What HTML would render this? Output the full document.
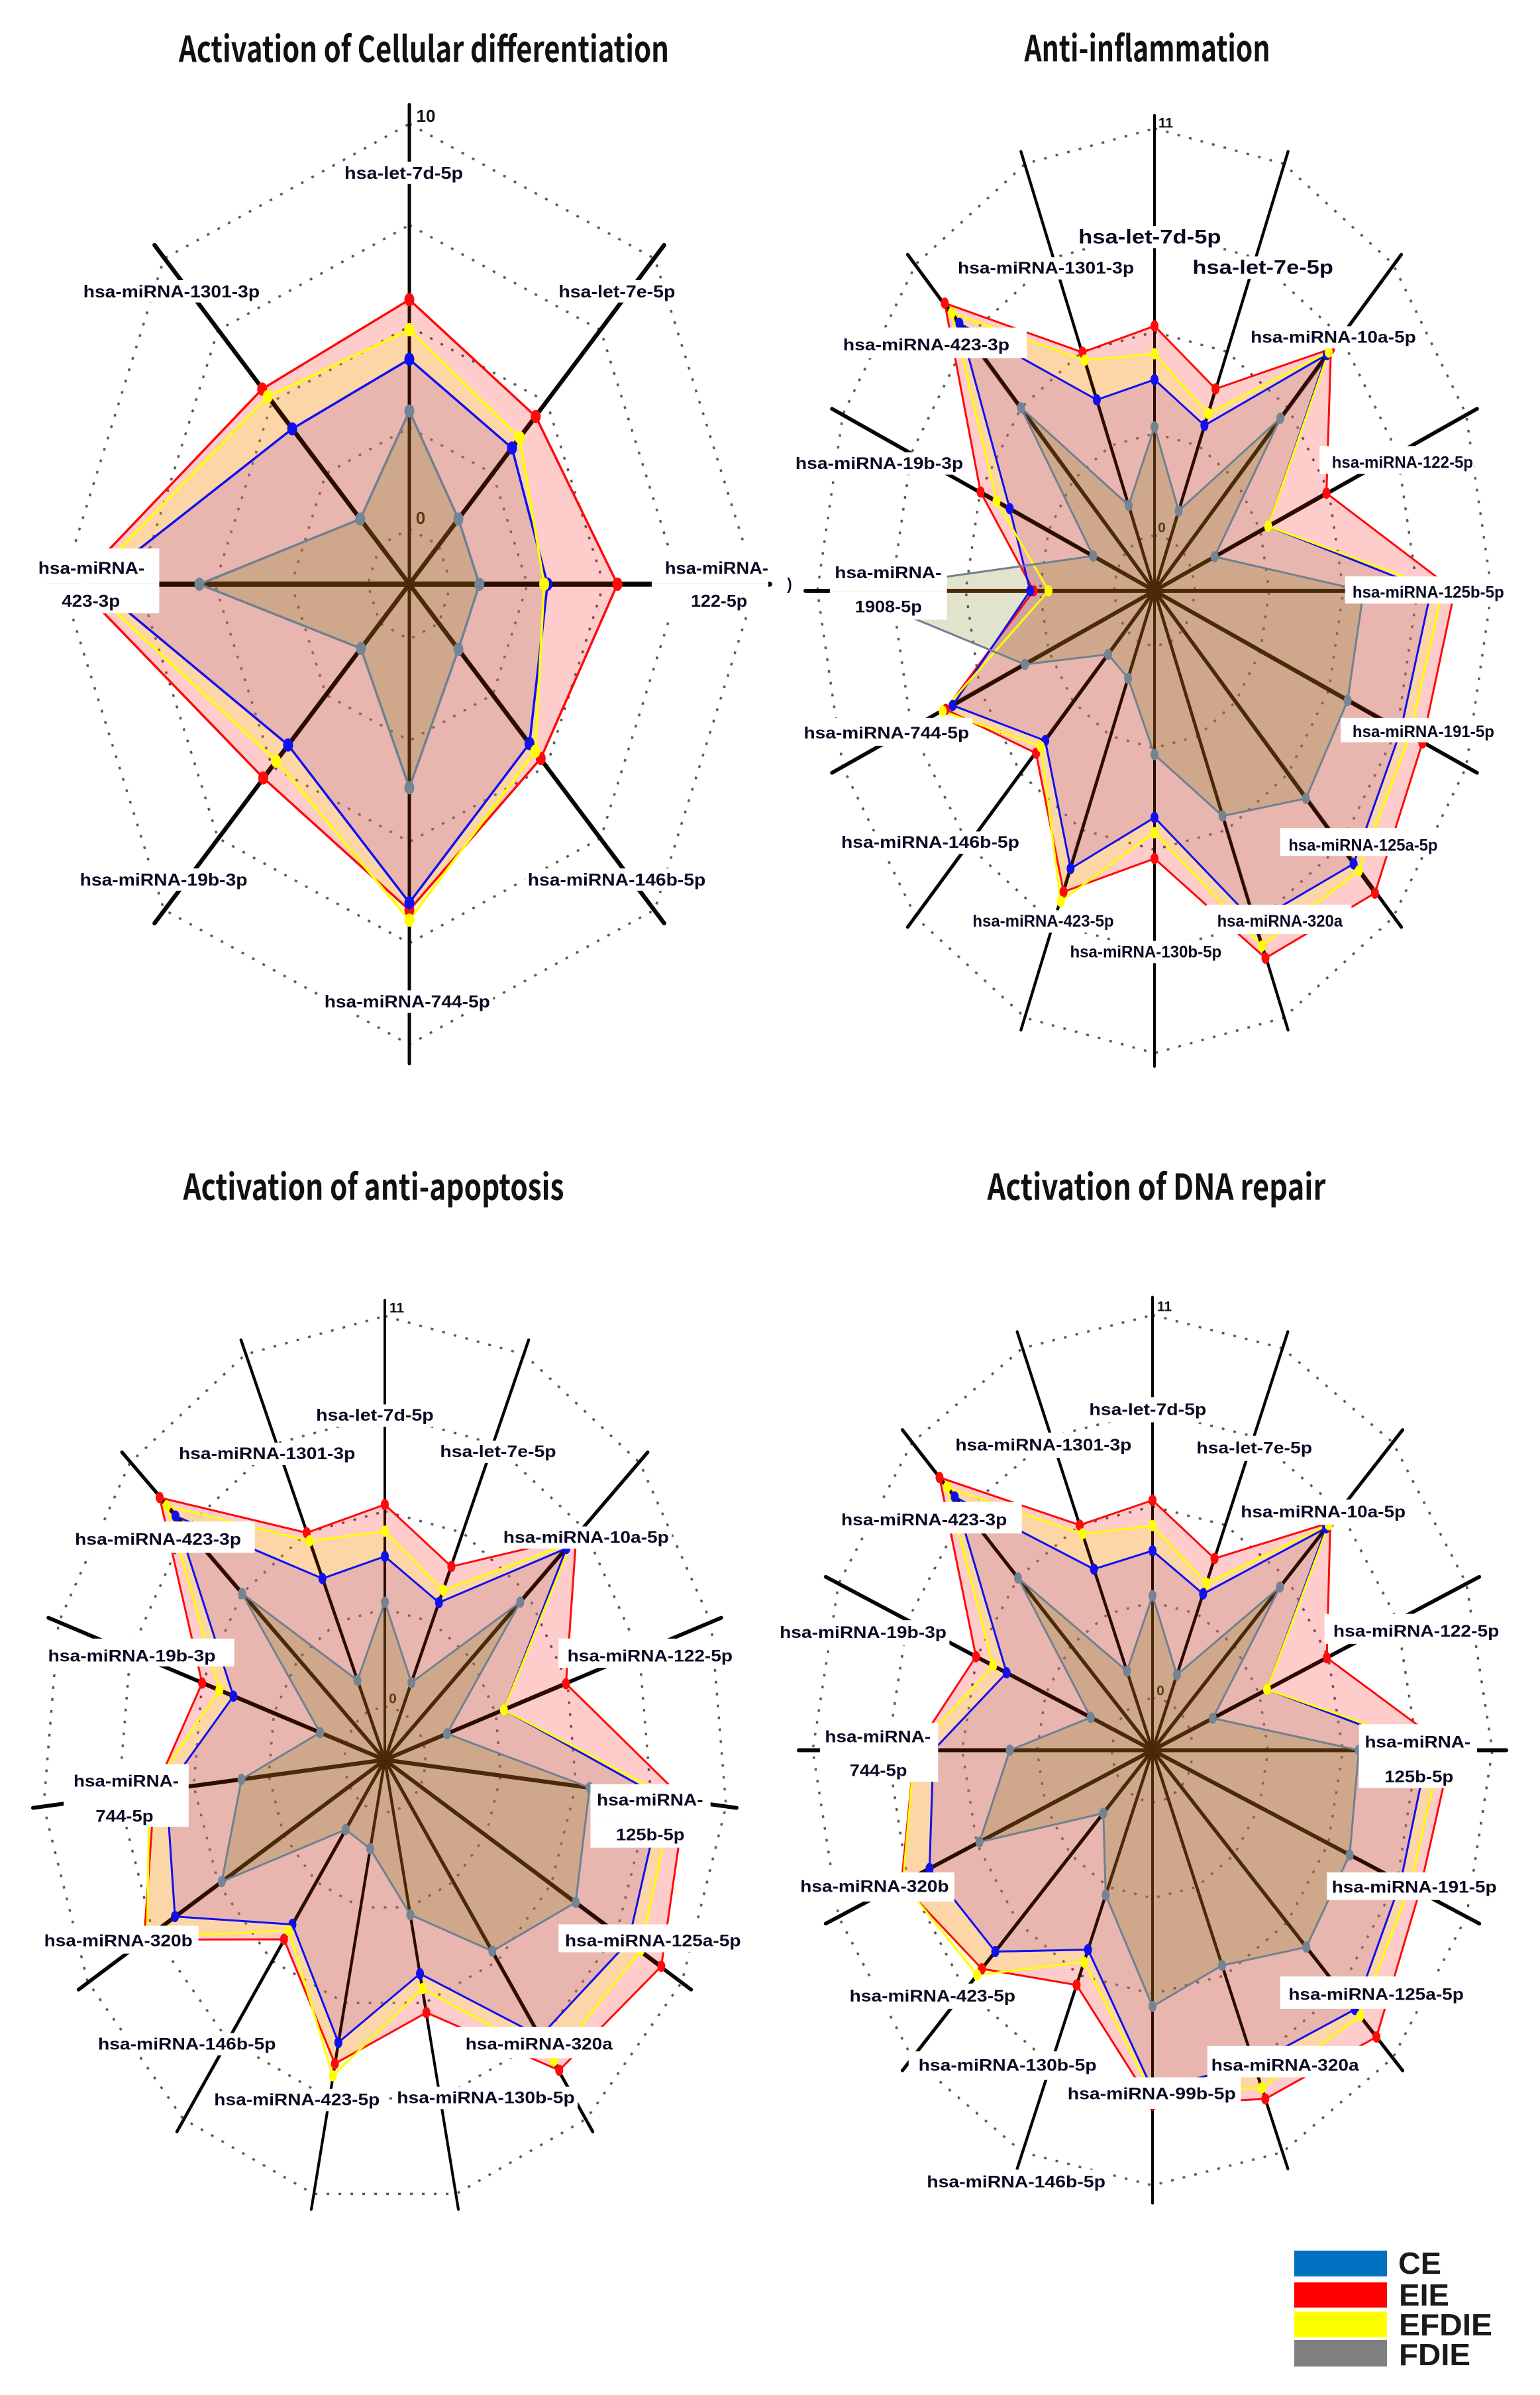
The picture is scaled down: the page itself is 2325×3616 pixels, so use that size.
<!DOCTYPE html>
<html lang="en">
<head>
<meta charset="utf-8">
<title>Radar charts of miRNA activation</title>
<style>
html,body{margin:0;padding:0;background:#fff;}
svg{display:block;}
text{font-family:"Liberation Sans","Noto Sans CJK KR",sans-serif;}
.title{font-family:"Noto Sans CJK KR","Liberation Sans",sans-serif;font-weight:700;font-size:54px;fill:#111;}
.lab{font-weight:700;fill:#0a0a22;}
.leg{font-weight:700;font-size:46px;fill:#1a1a1a;}
</style>
</head>
<body>
<svg id="root" xmlns="http://www.w3.org/2000/svg" width="2325" height="3616" viewBox="0 0 2325 3616">
<rect x="0" y="0" width="2325" height="3616" fill="#fff"/>
<text class="title" x="640" y="70" text-anchor="middle" dominant-baseline="central" textLength="740" lengthAdjust="spacingAndGlyphs">Activation of Cellular differentiation</text>
<text class="title" x="1732" y="69" text-anchor="middle" dominant-baseline="central" textLength="371" lengthAdjust="spacingAndGlyphs">Anti-inflammation</text>
<text class="title" x="564" y="1788" text-anchor="middle" dominant-baseline="central" textLength="575" lengthAdjust="spacingAndGlyphs">Activation of anti-apoptosis</text>
<text class="title" x="1746" y="1788" text-anchor="middle" dominant-baseline="central" textLength="511" lengthAdjust="spacingAndGlyphs">Activation of DNA repair</text>
<g id="charts"></g>
<g>
<rect x="1954" y="3398" width="140" height="39" fill="#0070c0"/>
<rect x="1954" y="3446" width="140" height="38" fill="#ff0000"/>
<rect x="1954" y="3490" width="140" height="39" fill="#ffff00"/>
<rect x="1954" y="3533" width="140" height="40" fill="#808080"/>
<text class="leg" x="2111" y="3417" dominant-baseline="central" textLength="65" lengthAdjust="spacingAndGlyphs">CE</text>
<text class="leg" x="2112" y="3465" dominant-baseline="central" textLength="76" lengthAdjust="spacingAndGlyphs">EIE</text>
<text class="leg" x="2112" y="3510" dominant-baseline="central" textLength="141" lengthAdjust="spacingAndGlyphs">EFDIE</text>
<text class="leg" x="2112" y="3555" dominant-baseline="central" textLength="108" lengthAdjust="spacingAndGlyphs">FDIE</text>
</g>
</svg>
<script>
// ---------- Activation of Cellular differentiation ----------
const cellCategories = ["hsa-let-7d-5p","hsa-let-7e-5p","hsa-miRNA-122-5p","hsa-miRNA-146b-5p","hsa-miRNA-744-5p","hsa-miRNA-19b-3p","hsa-miRNA-423-3p","hsa-miRNA-1301-3p"];
const cellEIE   = [5.66,4.49,5.45,4.72,6.68,5.40,9.55,5.45];
const cellEFDIE = [4.92,3.75,3.05,4.47,6.93,4.81,9.25,5.19];
const cellCE    = [4.19,3.39,3.16,4.20,6.50,4.25,8.94,4.06];
const cellFDIE  = [2.91,0.91,0.93,0.91,3.66,0.88,5.51,0.91];
const cellTicks = ["0","10"];

// ---------- Anti-inflammation ----------
const inflCategories = ["hsa-let-7d-5p","hsa-let-7e-5p","hsa-miRNA-10a-5p","hsa-miRNA-122-5p","hsa-miRNA-125b-5p","hsa-miRNA-191-5p","hsa-miRNA-125a-5p","hsa-miRNA-320a","hsa-miRNA-130b-5p","hsa-miRNA-423-5p","hsa-miRNA-146b-5p","hsa-miRNA-744-5p","hsa-miRNA-1908-5p","hsa-miRNA-19b-3p","hsa-miRNA-423-3p","hsa-miRNA-1301-3p"];
const inflEIE   = [5.66,4.41,7.75,5.40,9.63,9.25,10.06,9.25,5.74,7.31,4.71,6.88,2.98,5.48,9.50,5.48];
const inflEFDIE = [4.91,3.69,7.63,3.06,9.18,8.75,9.21,8.90,5.04,7.59,4.46,7.00,2.43,4.84,9.13,5.25];
const inflCE    = [4.21,3.34,7.53,3.06,8.75,8.38,8.94,8.19,4.63,6.63,4.23,6.60,3.11,4.31,8.73,4.09];
const inflFDIE  = [2.93,0.84,5.10,0.91,6.25,6.25,6.44,5.09,2.93,1.06,0.93,3.70,9.90,0.96,5.50,1.00];
const inflTicks = ["0","11"];

// ---------- Activation of anti-apoptosis ----------
const apopCategories = ["hsa-let-7d-5p","hsa-let-7e-5p","hsa-miRNA-10a-5p","hsa-miRNA-122-5p","hsa-miRNA-125b-5p","hsa-miRNA-125a-5p","hsa-miRNA-320a","hsa-miRNA-130b-5p","hsa-miRNA-423-5p","hsa-miRNA-146b-5p","hsa-miRNA-320b","hsa-miRNA-744-5p","hsa-miRNA-19b-3p","hsa-miRNA-423-3p","hsa-miRNA-1301-3p"];
const apopEIE   = [5.69,4.46,7.88,5.44,9.50,10.13,9.31,5.78,7.25,4.75,8.63,6.94,5.50,9.54,5.50];
const apopEFDIE = [4.94,3.73,7.63,3.06,9.06,9.25,8.98,5.09,7.60,4.45,8.50,7.13,4.84,9.19,5.25];
const apopCE    = [4.23,3.35,7.40,3.06,8.63,8.75,8.13,4.66,6.64,4.23,7.33,6.50,4.30,8.76,4.09];
const apopFDIE  = [2.94,0.88,5.14,0.88,6.00,6.53,5.16,2.96,1.06,0.93,5.36,3.75,0.98,5.50,0.95];
const apopTicks = ["0","11"];

// ---------- Activation of DNA repair ----------
const dnaCategories = ["hsa-let-7d-5p","hsa-let-7e-5p","hsa-miRNA-10a-5p","hsa-miRNA-122-5p","hsa-miRNA-125b-5p","hsa-miRNA-191-5p","hsa-miRNA-125a-5p","hsa-miRNA-320a","hsa-miRNA-99b-5p","hsa-miRNA-130b-5p","hsa-miRNA-423-5p","hsa-miRNA-320b","hsa-miRNA-744-5p","hsa-miRNA-19b-3p","hsa-miRNA-423-3p","hsa-miRNA-1301-3p"];
const dnaEIE   = [5.68,4.46,7.75,5.44,9.50,9.13,10.15,9.34,8.69,5.80,7.38,8.50,7.25,5.53,9.58,5.50];
const dnaEFDIE = [4.95,3.69,7.66,3.06,9.13,8.75,9.30,9.00,8.38,5.09,7.63,8.44,7.25,4.85,9.19,5.23];
const dnaCE    = [4.23,3.36,7.53,3.06,8.63,8.38,9.03,8.25,8.25,4.70,6.68,7.38,6.56,4.31,8.79,4.13];
const dnaFDIE  = [2.94,0.84,5.13,0.90,6.09,6.35,6.50,5.19,5.86,3.00,1.06,5.39,3.75,0.96,5.50,0.96];
const dnaTicks = ["0","11"];

// ---------- Label layout (text, x0, x1, y-centre in reference crop units, optional box x0,x1,y0,y1, font px) ----------
const cellLabelLayout = [
 ["hsa-let-7d-5p",703,945,248],["hsa-miRNA-1301-3p",170,530,418],["hsa-let-7e-5p",1140,1378,418],
 ["hsa-miRNA-",78,295,815,[70,325,787,838]],["423-3p",126,245,862,[70,325,838,880]],
 ["hsa-miRNA-",1357,1568,815,[1330,1568,787,838]],["122-5p",1410,1525,862,[1330,1568,838,885]],
 ["hsa-miRNA-19b-3p",163,505,1262],["hsa-miRNA-146b-5p",1077,1440,1262],["hsa-miRNA-744-5p",662,1000,1437]
];
const inflLabelLayout = [
 ["hsa-let-7d-5p",630,920,340,null,30],["hsa-let-7e-5p",862,1148,384,null,30],["hsa-miRNA-1301-3p",385,743,385],
 ["hsa-miRNA-10a-5p",980,1316,484],["hsa-miRNA-423-3p",152,490,495,[145,525,470,514]],
 ["hsa-miRNA-122-5p",1145,1432,664,[1120,1435,640,680]],["hsa-miRNA-19b-3p",55,396,665],
 ["hsa-miRNA-",135,352,822,[125,363,800,848]],["1908-5p",176,312,871,[125,363,848,889]],
 [")",38,48,838],
 ["hsa-miRNA-125b-5p",1187,1495,850,[1172,1500,827,866]],["hsa-miRNA-744-5p",72,408,1052,[60,415,1030,1070]],
 ["hsa-miRNA-191-5p",1187,1475,1050,[1163,1480,1030,1065]],["hsa-miRNA-146b-5p",148,510,1209],
 ["hsa-miRNA-125a-5p",1057,1360,1213,[1040,1365,1188,1228]],["hsa-miRNA-423-5p",415,702,1322],
 ["hsa-miRNA-320a",912,1167,1322,[890,1185,1298,1340]],["hsa-miRNA-130b-5p",613,921,1366]
];
const apopLabelLayout = [
 ["hsa-let-7d-5p",645,885,368],["hsa-miRNA-1301-3p",365,725,423],["hsa-let-7e-5p",898,1135,420],
 ["hsa-miRNA-423-3p",153,492,546,[145,520,520,565]],["hsa-miRNA-10a-5p",1027,1365,543],
 ["hsa-miRNA-19b-3p",98,440,713,[90,478,688,728]],["hsa-miRNA-122-5p",1158,1495,713,[1140,1500,688,730]],
 ["hsa-miRNA-",150,365,893,[130,385,868,918]],["744-5p",195,313,943,[130,385,918,958]],
 ["hsa-miRNA-",1218,1435,920,[1205,1450,897,945]],["125b-5p",1257,1397,970,[1205,1450,945,988]],
 ["hsa-miRNA-320b",90,393,1122,[80,405,1100,1140]],["hsa-miRNA-125a-5p",1153,1512,1122,[1140,1520,1098,1138]],
 ["hsa-miRNA-146b-5p",200,563,1270],["hsa-miRNA-320a",950,1250,1270,[935,1265,1245,1290]],
 ["hsa-miRNA-423-5p",437,775,1350],["hsa-miRNA-130b-5p",810,1173,1347]
];
const dnaLabelLayout = [
 ["hsa-let-7d-5p",652,890,318],["hsa-miRNA-1301-3p",380,738,363],["hsa-let-7e-5p",870,1105,367],
 ["hsa-miRNA-10a-5p",960,1295,448],["hsa-miRNA-423-3p",148,485,458,[140,515,435,475]],
 ["hsa-miRNA-19b-3p",23,362,601],["hsa-miRNA-122-5p",1148,1485,599,[1130,1490,577,615]],
 ["hsa-miRNA-",115,330,733,[105,345,715,755]],["744-5p",165,282,776,[105,345,755,790]],
 ["hsa-miRNA-",1212,1427,740,[1200,1440,717,760]],["125b-5p",1252,1392,784,[1200,1440,760,798]],
 ["hsa-miRNA-320b",65,367,923,[55,378,905,942]],["hsa-miRNA-191-5p",1145,1480,924,[1135,1490,905,940]],
 ["hsa-miRNA-125a-5p",1057,1413,1060,[1040,1420,1037,1078]],["hsa-miRNA-423-5p",165,502,1062],
 ["hsa-miRNA-130b-5p",305,667,1150,[285,675,1132,1168]],["hsa-miRNA-320a",900,1200,1150,[892,1215,1125,1165]],
 ["hsa-miRNA-99b-5p",608,950,1186,[600,960,1165,1205]],["hsa-miRNA-146b-5p",322,685,1298]
];

const NS = "http://www.w3.org/2000/svg";
const INNER = 0.12;   // fraction of radius at value 0
const RINGS = 5;
const seriesFills = [
 {key:"eie",   fill:"rgba(255,0,0,0.2)"},
 {key:"efdie", fill:"rgba(245,255,20,0.2)"},
 {key:"ce",    fill:"rgba(148,56,208,0.2)"},
 {key:"fdie",  fill:"rgba(110,115,0,0.2)"}
];
const seriesStrokes = [
 {key:"eie",   stroke:"#ff0a0a", marker:"#ff0a0a"},
 {key:"ce",    stroke:"#1010ee", marker:"#1010ee"},
 {key:"efdie", stroke:"#ffff00", marker:"#ffff00"},
 {key:"fdie",  stroke:"#708090", marker:"#748494"}
];

function make(tag, attrs, parent){
  const el = document.createElementNS(NS, tag);
  for (const k in attrs) el.setAttribute(k, attrs[k]);
  parent.appendChild(el);
  return el;
}

function radialScale(v, max){ return INNER + (1 - INNER) * v / max; }

function axisPoint(c, i, n, frac, rx, ry){
  const a = 2 * Math.PI * i / n;
  return [c.cx + Math.sin(a) * frac * rx, c.cy - Math.cos(a) * frac * ry];
}

function spokeWidth(c, i, n){
  const a = 2 * Math.PI * i / n;
  return Math.sqrt(Math.pow(c.spokeWx * Math.cos(a), 2) + Math.pow(c.spokeWy * Math.sin(a), 2));
}

function drawRadar(c){
  const root = document.getElementById("charts");
  const g = make("g", {}, root);
  
  
  const n = c.categories.length;

  // rings
  for (let r = 0; r < RINGS; r++){
    const frac = INNER + (1 - INNER) * r / (RINGS - 1);
    const pts = [];
    for (let i = 0; i < n; i++) pts.push(axisPoint(c, i, n, frac, c.rx, c.ry).join(","));
    const ring = make("polygon", {points: pts.join(" "), fill: "none", stroke: "#5a5a5a", "stroke-width": 3.5, "stroke-dasharray": "4 14"}, g);
    
    
  }
  // spokes
  for (let i = 0; i < n; i++){
    const p = axisPoint(c, i, n, 1, c.srx, c.sry);
    const sp = make("line", {x1: c.cx, y1: c.cy, x2: p[0], y2: p[1], stroke: "#050505", "stroke-width": spokeWidth(c, i, n), "stroke-linecap": "round"}, g);
    
    
  }
  // series fills
  seriesFills.forEach(function(s){
    const pts = c.series[s.key].map(function(v, i){ return axisPoint(c, i, n, radialScale(v, c.max), c.rx, c.ry).join(","); });
    const poly = make("polygon", {points: pts.join(" "), fill: s.fill, stroke: "none"}, g);
    
    
  });
  // spokes re-inked under the fills: dark brown inside the polygons
  for (let i = 0; i < n; i++){
    const outer = Math.max(c.series.eie[i], c.series.efdie[i], c.series.ce[i], c.series.fdie[i]);
    const p1 = axisPoint(c, i, n, radialScale(outer, c.max), c.rx, c.ry);
    const s1 = make("line", {x1: c.cx, y1: c.cy, x2: p1[0], y2: p1[1], stroke: "#2a0c00", "stroke-width": spokeWidth(c, i, n)}, g);
    
    
    const p2 = axisPoint(c, i, n, radialScale(c.series.fdie[i], c.max), c.rx, c.ry);
    const s2 = make("line", {x1: c.cx, y1: c.cy, x2: p2[0], y2: p2[1], stroke: "#4a2a08", "stroke-width": spokeWidth(c, i, n)}, g);
    
    
  }
  // series strokes
  seriesStrokes.forEach(function(s){
    const pts = c.series[s.key].map(function(v, i){ return axisPoint(c, i, n, radialScale(v, c.max), c.rx, c.ry).join(","); });
    const line = make("polygon", {points: pts.join(" "), fill: "none", stroke: s.stroke, "stroke-width": c.lineW, "stroke-linejoin": "round"}, g);
    
    
  });
  // markers
  seriesStrokes.forEach(function(s){
    c.series[s.key].forEach(function(v, i){
      const p = axisPoint(c, i, n, radialScale(v, c.max), c.rx, c.ry);
      const m = make("ellipse", {cx: p[0], cy: p[1], rx: c.mrx, ry: c.mry, fill: s.marker}, g);
      
      
    });
  });
  // label boxes then labels
  const px = function(z){ return c.ox + z * c.fx; };
  const py = function(z){ return c.oy + z * c.fy; };
  c.labels.forEach(function(l){
    const b = l[4] || [l[1] - 6, l[2] + 6, l[3] - 16, l[3] + 16];
    const box = make("rect", {x: px(b[0]), y: py(b[2]), width: (b[1] - b[0]) * c.fx, height: (b[3] - b[2]) * c.fy, fill: "#fff"}, g);
    
    
  });
  c.labels.forEach(function(l){
    const fs = l[5] || c.labelFont;
    const t = make("text", {class: "lab", x: px((l[1] + l[2]) / 2), y: py(l[3]), "text-anchor": "middle", "dominant-baseline": "central", "font-size": fs, textLength: (l[2] - l[1]) * c.fx, lengthAdjust: "spacingAndGlyphs"}, g);
    t.textContent = l[0];
    
    
  });
  // ticks
  const t0 = make("text", {x: c.tick0[0], y: c.tick0[1], "text-anchor": "middle", "dominant-baseline": "central", "font-size": c.tickFont, "font-weight": 700, fill: "#5a3a18"}, g);
  t0.textContent = c.ticks[0];
  
  
  const t1 = make("text", {x: c.tick1[0], y: c.tick1[1], "text-anchor": "middle", "dominant-baseline": "central", "font-size": c.tickFont, "font-weight": 700, fill: "#111"}, g);
  t1.textContent = c.ticks[1];
  
  
}

const FX1 = 1160 / 1568, FX2 = 1165 / 1568, FY1 = 1650 / 1568, FY2 = 1866 / 1568;

drawRadar({name: "radar-cellular-differentiation", categories: cellCategories, max: 10, ticks: cellTicks,
  series: {eie: cellEIE, efdie: cellEFDIE, ce: cellCE, fdie: cellFDIE},
  ox: 0, oy: 0, fx: FX1, fy: FY1, cx: 618, cy: 882, rx: 524, ry: 695, srx: 544, sry: 724,
  spokeWx: 5, spokeWy: 7.5, lineW: 3.5, mrx: 7.5, mry: 10, labelFont: 26, tickFont: 26, tick0: [635, 782], tick1: [643, 175], labels: cellLabelLayout});

drawRadar({name: "radar-anti-inflammation", categories: inflCategories, max: 11, ticks: inflTicks,
  series: {eie: inflEIE, efdie: inflEFDIE, ce: inflCE, fdie: inflFDIE},
  ox: 1160, oy: 0, fx: FX2, fy: FY1, cx: 1743, cy: 892, rx: 509, ry: 698, srx: 527, sry: 718,
  spokeWx: 4, spokeWy: 6, lineW: 3, mrx: 6, mry: 8.5, labelFont: 25, tickFont: 21, tick0: [1754, 797], tick1: [1760, 186], labels: inflLabelLayout});

drawRadar({name: "radar-anti-apoptosis", categories: apopCategories, max: 11, ticks: apopTicks,
  series: {eie: apopEIE, efdie: apopEFDIE, ce: apopCE, fdie: apopFDIE},
  ox: 0, oy: 1750, fx: FX1, fy: FY1, cx: 581, cy: 2657, rx: 518, ry: 670, srx: 534, sry: 694,
  spokeWx: 4, spokeWy: 6, lineW: 3, mrx: 6, mry: 8.5, labelFont: 25, tickFont: 21, tick0: [593, 2565], tick1: [599, 1975], labels: apopLabelLayout});

drawRadar({name: "radar-dna-repair", categories: dnaCategories, max: 11, ticks: dnaTicks,
  series: {eie: dnaEIE, efdie: dnaEFDIE, ce: dnaCE, fdie: dnaFDIE},
  ox: 1160, oy: 1750, fx: FX2, fy: FY2, cx: 1740, cy: 2642.5, rx: 513, ry: 657, srx: 534, sry: 684,
  spokeWx: 4, spokeWy: 6, lineW: 3, mrx: 6, mry: 8.5, labelFont: 25, tickFont: 21, tick0: [1752, 2553], tick1: [1758, 1973], labels: dnaLabelLayout});
</script>
</body>
</html>
